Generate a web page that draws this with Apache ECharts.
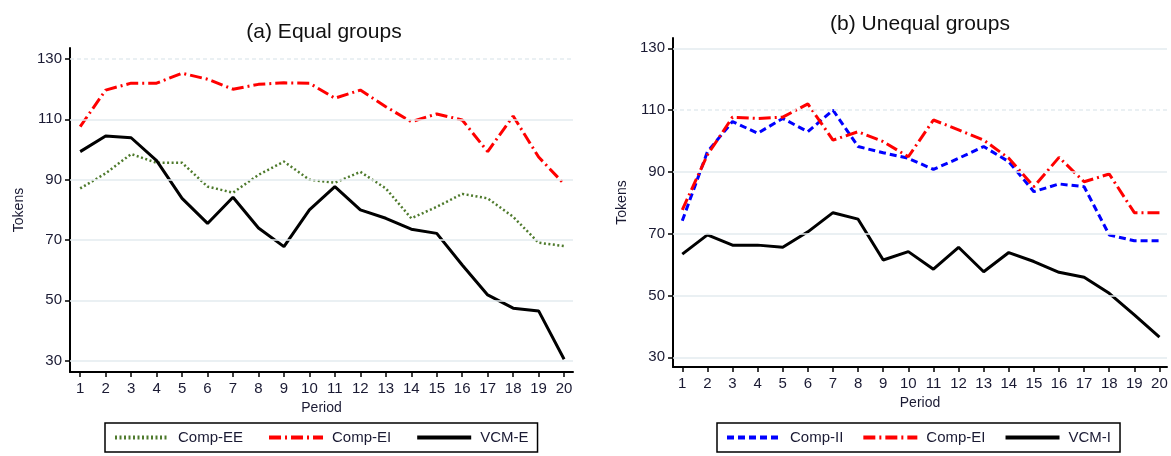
<!DOCTYPE html>
<html>
<head>
<meta charset="utf-8">
<script src="https://cdn.jsdelivr.net/npm/echarts@6/dist/echarts.min.js"></script>
<style>
  html, body { margin: 0; padding: 0; background: #fff; }
  #chart { width: 1171px; height: 456px; }
</style>
</head>
<body>
<div id="chart"></div>
<script>
// ---- data ----
const periods = [1,2,3,4,5,6,7,8,9,10,11,12,13,14,15,16,17,18,19,20];
const yTicks = [30, 50, 70, 90, 110, 130];

// (a) Equal groups
const compEE   = [87.1, 92.1, 98.5, 95.6, 95.6, 87.7, 85.7, 91.6, 96.0, 90.0, 89.0, 92.6, 87.1, 77.2, 81.0, 85.3, 83.8, 77.7, 69.1, 68.0];
const compEIeq = [107.6, 119.7, 122.0, 122.0, 125.3, 123.3, 120.0, 121.6, 122.1, 122.0, 117.0, 119.7, 114.2, 109.2, 111.8, 109.8, 99.3, 111.1, 97.5, 88.6];
const vcmE     = [99.3, 104.5, 103.9, 96.3, 83.8, 75.5, 84.2, 74.0, 67.8, 80.0, 87.7, 80.0, 77.2, 73.6, 72.2, 61.7, 51.8, 47.4, 46.5, 30.5];

// (b) Unequal groups
const compII     = [74.2, 96.5, 106.3, 102.5, 107.3, 103.0, 110.0, 98.2, 96.2, 94.4, 90.8, 94.4, 98.2, 93.3, 83.6, 86.1, 85.2, 69.6, 67.7, 67.7];
const compEIuneq = [77.7, 95.5, 107.7, 107.3, 107.7, 112.0, 100.3, 103.0, 99.8, 94.9, 106.8, 103.6, 100.3, 94.4, 85.2, 94.7, 86.8, 89.3, 76.8, 76.8];
const vcmI       = [63.4, 69.6, 66.3, 66.3, 65.6, 70.6, 76.8, 74.7, 61.5, 64.2, 58.5, 65.6, 57.7, 63.9, 61.0, 57.5, 55.9, 50.7, 43.7, 36.5];

// ---- styles ----
const FONT = 'Liberation Sans, Arial, sans-serif';
const TXT = '#1a1a33';
const GRID_C = '#e3ebef';
const GREEN = '#4e7a2c';
const RED = '#ff0000';
const BLUE = '#0000ff';
const BLACK = '#000000';

function pairs(vals) { return periods.map((p, i) => [p, vals[i]]); }

function xAxisCfg(idx, min, max) {
  return {
    type: 'value', gridIndex: idx, min: min, max: max,
    name: 'Period', nameLocation: 'middle', nameGap: idx === 0 ? 22 : 25,
    nameTextStyle: { fontFamily: FONT, fontSize: 14, color: TXT },
    axisLine: { show: true, onZero: false, lineStyle: { color: BLACK, width: 2 } },
    axisTick: { show: true, length: 5, lineStyle: { color: BLACK, width: 1.5 }, customValues: periods },
    axisLabel: { customValues: periods, margin: 9, fontFamily: FONT, fontSize: 15, color: TXT },
    splitLine: { show: false }
  };
}
function yAxisCfg(idx, min, max) {
  return {
    type: 'value', gridIndex: idx, min: min, max: max,
    name: 'Tokens', nameLocation: 'middle', nameGap: 44,
    nameTextStyle: { fontFamily: FONT, fontSize: 14, color: TXT },
    axisLine: { show: true, onZero: false, lineStyle: { color: BLACK, width: 2 } },
    axisTick: { show: true, length: 5, lineStyle: { color: BLACK, width: 1.5 }, customValues: yTicks },
    axisLabel: { customValues: yTicks, margin: 8, fontFamily: FONT, fontSize: 15, color: TXT },
    splitLine: { show: false }
  };
}
function gridSeries(idx, dashedValue) {
  return {
    type: 'line', name: '_grid' + idx, xAxisIndex: idx, yAxisIndex: idx, data: [], z: 1, silent: true,
    markLine: {
      silent: true, symbol: 'none', label: { show: false }, animation: false,
      data: yTicks.map(v => ({ yAxis: v, lineStyle: { color: GRID_C, width: 1.5, type: v === dashedValue ? [4, 3] : 'solid' } }))
    }
  };
}
function lineSeries(name, idx, vals, color, type, width) {
  return {
    type: 'line', name: name, xAxisIndex: idx, yAxisIndex: idx, data: pairs(vals), z: 3,
    symbol: 'none', smooth: false,
    lineStyle: { color: color, width: width, type: type },
    itemStyle: { color: color }
  };
}

const legendBase = {
  orient: 'horizontal', itemWidth: 54, itemHeight: 14, itemGap: 24,
  borderColor: '#000', borderWidth: 1.5, padding: [7, 9, 7, 8],
  itemStyle: { opacity: 0 },
  lineStyle: { width: 4 },
  textStyle: { fontFamily: FONT, fontSize: 15, color: TXT, padding: [0, 0, 0, 4] },
  selectedMode: false
};

const option = {
  animation: false,
  backgroundColor: '#fff',
  title: [
    { text: '(a) Equal groups', left: 324, top: 22, textAlign: 'center', padding: 0,
      textStyle: { fontFamily: FONT, fontSize: 21, fontWeight: 'normal', color: '#111' } },
    { text: '(b) Unequal groups', left: 920, top: 14, textAlign: 'center', padding: 0,
      textStyle: { fontFamily: FONT, fontSize: 21, fontWeight: 'normal', color: '#111' } }
  ],
  grid: [
    { left: 70, top: 48, width: 503, height: 324 },
    { left: 673, top: 38, width: 494, height: 329 }
  ],
  xAxis: [xAxisCfg(0, 0.6, 20.35), xAxisCfg(1, 0.63, 20.3)],
  yAxis: [yAxisCfg(0, 26.25, 133.65), yAxisCfg(1, 26.86, 133.33)],
  legend: [
    Object.assign({}, legendBase, { left: 105, top: 423, data: ['Comp-EE', 'Comp-EI', 'VCM-E'] }),
    Object.assign({}, legendBase, { left: 717, top: 423, itemGap: 18, data: ['Comp-II', 'Comp-EI', 'VCM-I'] })
  ],
  series: [
    gridSeries(0, 130),
    gridSeries(1, 110),
    lineSeries('Comp-EE', 0, compEE, GREEN, [2, 2.5], 2.5),
    lineSeries('Comp-EI', 0, compEIeq, RED, [12, 4, 2, 4], 3),
    lineSeries('VCM-E', 0, vcmE, BLACK, 'solid', 3),
    lineSeries('Comp-II', 1, compII, BLUE, [7, 4], 3),
    lineSeries('Comp-EI', 1, compEIuneq, RED, [12, 4, 2, 4], 3),
    lineSeries('VCM-I', 1, vcmI, BLACK, 'solid', 3)
  ]
};

const chart = echarts.init(document.getElementById('chart'), null, { renderer: 'canvas' });
chart.setOption(option);
</script>
</body>
</html>
